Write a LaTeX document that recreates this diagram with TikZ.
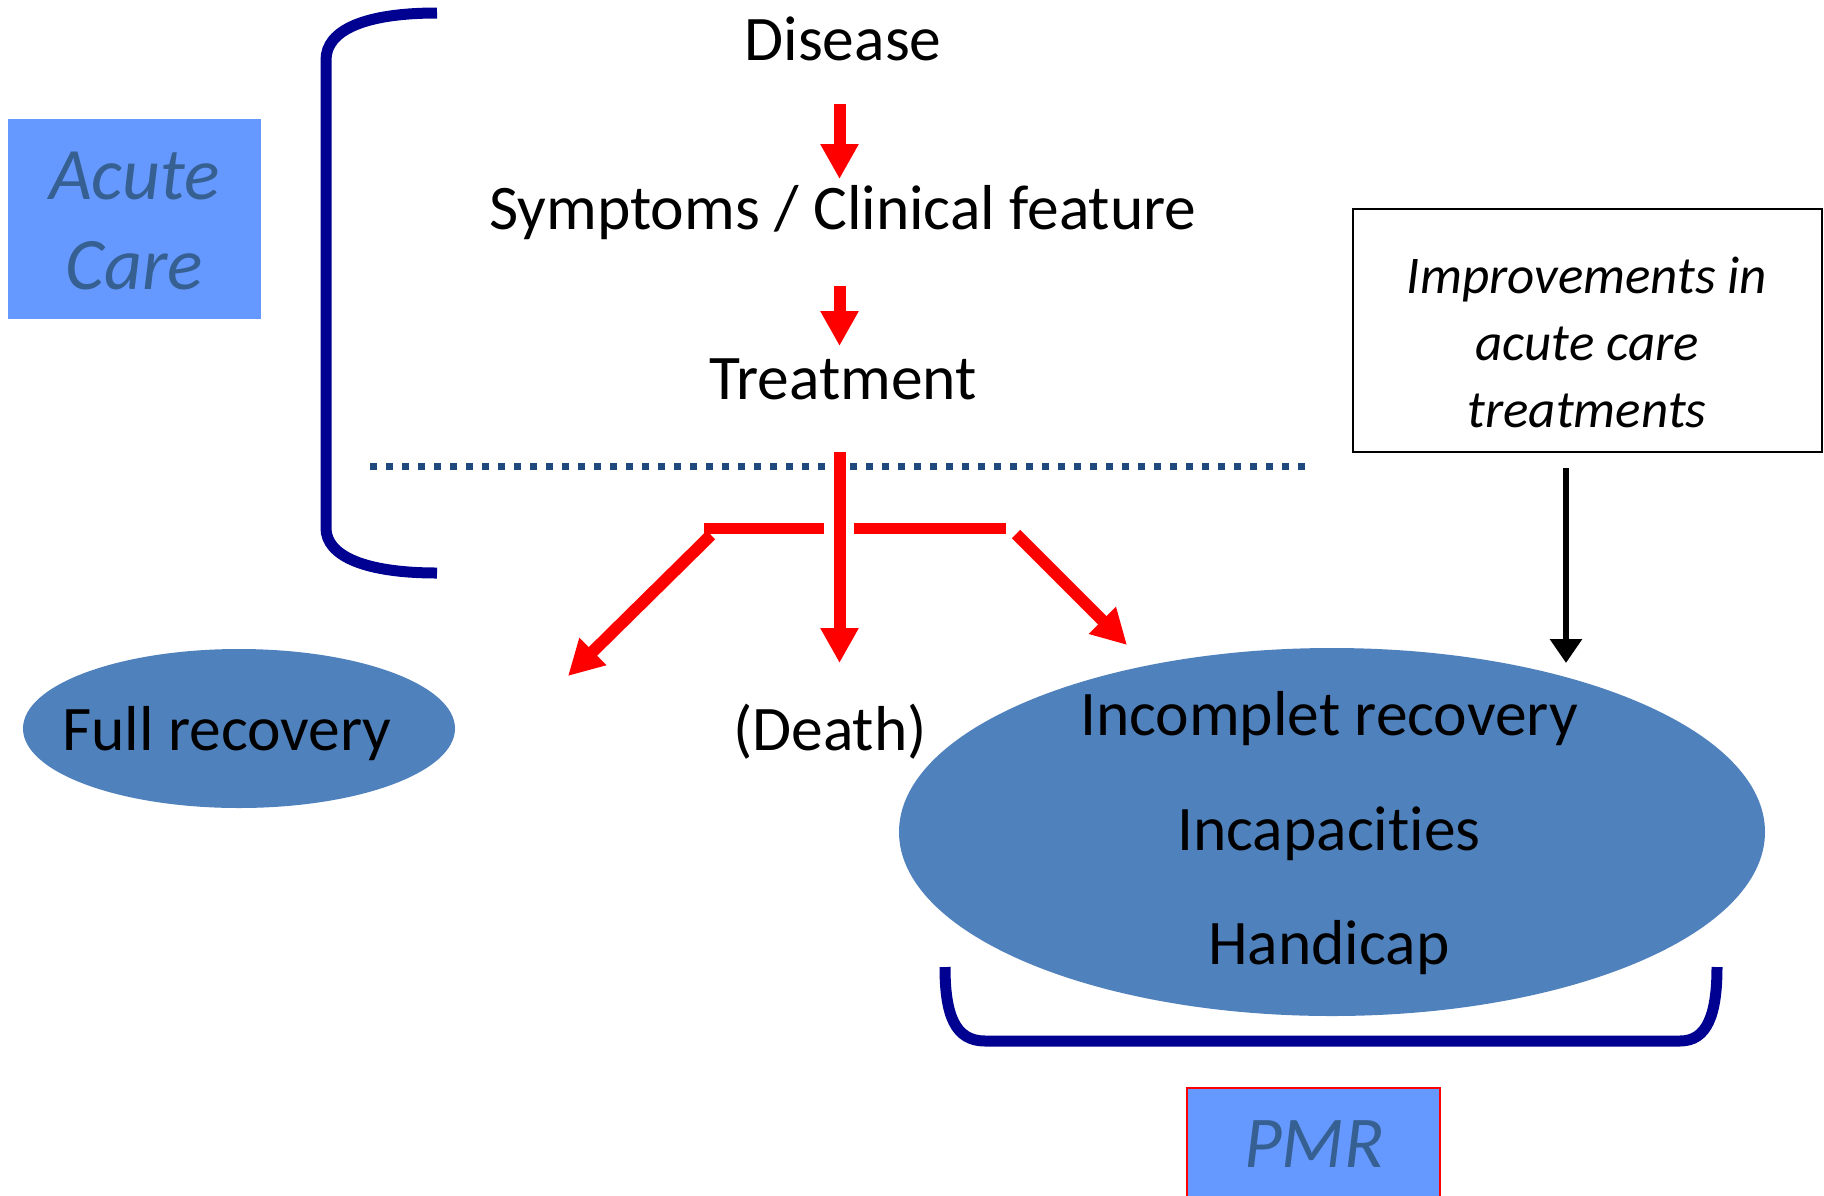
\documentclass[tikz,border=0pt]{standalone}
\usepackage{fontspec}
\setmainfont{Carlito}[Ligatures={NoCommon}]
\usetikzlibrary{arrows.meta,shapes.geometric}
\definecolor{navyb}{RGB}{0,0,145}
\definecolor{dotblue}{RGB}{31,73,125}
\definecolor{ellblue}{RGB}{79,129,189}
\definecolor{boxblue}{RGB}{102,153,255}
\definecolor{slate}{RGB}{55,96,146}
\begin{document}
\begin{tikzpicture}[x=1pt,y=-1pt,
  maintext/.style={font=\fontsize{63.5}{76}\selectfont, anchor=base, inner sep=0pt},
  redarrow/.style={draw=red, line width=12pt, -{Triangle[width=36pt,length=35pt]}},
  redbar/.style={draw=red, line width=11pt},
  bracket/.style={draw=navyb, line width=11pt},
  ellipsenode/.style={ellipse, fill=ellblue, inner sep=0pt},
  carebox/.style={fill=boxblue, inner sep=0pt},
  caretext/.style={text=slate, font=\fontsize{74}{90}\selectfont\itshape, align=center, inner sep=0pt},
  blackarrow/.style={draw=black, line width=6pt, -{Triangle[width=31pt,length=24pt]}},
  dotline/.style={draw=dotblue, line width=7pt, dash pattern=on 7pt off 9pt}
]
\clip (0,0) rectangle (1824,1195);
\fill[white] (0,0) rectangle (1824,1195);

% Acute care box
\node[carebox, minimum width=253pt, minimum height=200pt] (acutebox) at (134.5,219) {};
\node[caretext] (acutetxt) at (134.5,221) {Acute\\Care};

% left bracket
\draw[bracket] (437,13) .. controls (365,13) and (326,30) .. (326,60) -- (326,528) .. controls (326,556) and (365,573) .. (437,573);

% main chain
\node[maintext] (disease) at (843,60) {Disease};
\node[maintext] (symptoms) at (843,229) {Symptoms / Clinical feature};
\node[maintext] (treatment) at (843,399) {Treatment};

\coordinate (a1s) at (839.5,104);
\coordinate (a1e) at (839.5,179);
\coordinate (a2s) at (839.5,286);
\coordinate (a2e) at (839.5,346);
\draw[redarrow] (a1s) -- (a1e);
\draw[redarrow] (a2s) -- (a2e);

% dotted separator
\coordinate (dl) at (370,466);
\coordinate (dr) at (1309,466);
\draw[dotline] (dl) -- (dr);

% branching
\coordinate (vs) at (839.5,452);
\coordinate (ve) at (839.5,663);
\draw[redarrow] (vs) -- (ve);
\coordinate (bl1) at (704,528);
\coordinate (bl2) at (824,528);
\coordinate (br1) at (854,528);
\coordinate (br2) at (1006,528);
\draw[redbar] (bl1) -- (bl2);
\draw[redbar] (br1) -- (br2);
\coordinate (ls) at (711,535);
\coordinate (le) at (568,676);
\coordinate (rs) at (1016,534);
\coordinate (re) at (1127,645);
\draw[redarrow] (ls) -- (le);
\draw[redarrow] (rs) -- (re);

% outcomes
\node[ellipsenode, minimum width=432pt, minimum height=159pt] (full) at (239,728.5) {};
\node[maintext] (fulltxt) at (227,750) {Full recovery};
\node[maintext] (death) at (830,750) {(Death)};
\node[ellipsenode, minimum width=866pt, minimum height=368pt] (incomp) at (1332,832) {};
\node[maintext] (inc1) at (1329,735) {Incomplet recovery};
\node[maintext] (inc2) at (1329,850) {Incapacities};
\node[maintext] (inc3) at (1329,964) {Handicap};

% bottom bracket
\draw[bracket] (945,967) .. controls (945,1015) and (955,1041) .. (985,1041) -- (1680,1041) .. controls (1707,1041) and (1717,1015) .. (1717,967);

% PMR box
\node[draw=red, line width=2pt, fill=boxblue, minimum width=253pt, minimum height=140pt, inner sep=0pt, anchor=north] (pmr) at (1313.5,1087) {};
\node[text=slate, font=\fontsize{73}{88}\selectfont\itshape, anchor=base, inner sep=0pt] (pmrtxt) at (1314,1167) {PMR};

% improvements box
\node[draw=black, line width=2pt, minimum width=469pt, minimum height=243pt, inner sep=0pt] (imp) at (1587.5,330.5) {};
\node[font=\fontsize{53}{67}\selectfont\itshape, align=center, inner sep=0pt] (imptxt) at (1587,342) {Improvements in\\acute care\\treatments};
\coordinate (bae) at (1566,663);
\draw[blackarrow] (imp.south -| bae) ++(0,15) -- (bae);
\end{tikzpicture}
\end{document}
